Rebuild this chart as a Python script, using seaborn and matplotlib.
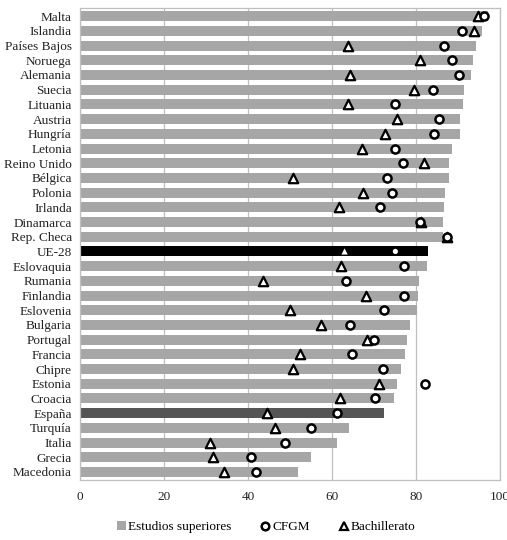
import numpy as np
import pandas as pd
import matplotlib
matplotlib.use('Agg')
import matplotlib.pyplot as plt
import seaborn as sns
from matplotlib.lines import Line2D
from matplotlib.patches import Patch

# datos ======================================================================
paises = ['Malta', 'Islandia', 'Países Bajos', 'Noruega', 'Alemania', 'Suecia',
          'Lituania', 'Austria', 'Hungría', 'Letonia', 'Reino Unido', 'Bélgica',
          'Polonia', 'Irlanda', 'Dinamarca', 'Rep. Checa', 'UE-28', 'Eslovaquia',
          'Rumania', 'Finlandia', 'Eslovenia', 'Bulgaria', 'Portugal', 'Francia',
          'Chipre', 'Estonia', 'Croacia', 'España', 'Turquía', 'Italia', 'Grecia',
          'Macedonia']
superiores = [97.2, 95.8, 94.3, 93.6, 93.1, 91.5, 91.2, 90.6, 90.6, 88.5, 87.9,
              87.9, 87.0, 86.8, 86.5, 86.4, 82.9, 82.6, 80.7, 80.4, 80.2, 78.6,
              77.9, 77.3, 76.5, 75.6, 74.8, 72.4, 64.1, 61.3, 55.1, 51.8]
cfgm = [96.3, 91.0, 86.8, 88.6, 90.2, 84.0, 74.9, 85.6, 84.4, 74.9, 77.0,
        73.1, 74.4, 71.4, 80.9, 87.3, 75.1, 77.2, 63.4, 77.2, 72.4, 64.2,
        69.9, 64.8, 72.1, 82.2, 70.3, 61.3, 55.1, 48.7, 40.8, 42.0]
bachillerato = [94.7, 93.9, 63.7, 80.9, 64.2, 79.6, 63.9, 75.5, 72.7, 67.2, 81.9,
                50.6, 67.5, 61.7, 81.1, 87.3, 63.0, 62.1, 43.6, 68.0, 50.1, 57.5,
                68.3, 52.5, 50.6, 71.3, 61.8, 44.6, 46.4, 31.0, 31.6, 34.2]

df = pd.DataFrame({'pais': paises, 'sup': superiores,
                   'cfgm': cfgm, 'bach': bachillerato})

colores = {p: '#a6a6a6' for p in paises}
colores['UE-28'] = '#000000'
colores['España'] = '#555555'

plt.rcParams['font.family'] = ['Liberation Serif', 'DejaVu Serif']

fig = plt.figure(figsize=(5.07, 5.4), dpi=100)
ax = fig.add_axes([0.158, 0.111, 0.828, 0.874])

sns.barplot(data=df, x='sup', y='pais', hue='pais', palette=colores,
            legend=False, width=0.68, ax=ax, zorder=2, saturation=1)

normal = df[df['pais'] != 'UE-28']
ue = df[df['pais'] == 'UE-28']

sns.scatterplot(data=normal, x='cfgm', y='pais', marker='o', s=34,
                facecolor='white', edgecolor='black', linewidth=1.8, ax=ax, zorder=4)
sns.scatterplot(data=normal, x='bach', y='pais', marker='^', s=46,
                facecolor='white', edgecolor='black', linewidth=1.6, ax=ax, zorder=3)
sns.scatterplot(data=ue, x='cfgm', y='pais', marker='o', s=14,
                facecolor='white', edgecolor='none', ax=ax, zorder=4)
sns.scatterplot(data=ue, x='bach', y='pais', marker='^', s=20,
                facecolor='white', edgecolor='none', ax=ax, zorder=3)

ax.set_xlim(0, 100)
ax.set_ylim(len(paises) - 0.45, -0.55)
ax.set_xticks([0, 20, 40, 60, 80, 100])
ax.xaxis.grid(True, color='#bfbfbf', linewidth=0.9, zorder=0)
ax.yaxis.grid(False)
ax.set_axisbelow(True)
ax.set_xlabel('')
ax.set_ylabel('')
for s in ax.spines.values():
    s.set_color('#bfbfbf')
    s.set_linewidth(0.9)
ax.tick_params(axis='both', length=0, labelsize=9.5, colors='#222222')
ax.tick_params(axis='x', pad=8)
ax.tick_params(axis='y', pad=6)

handles = [Patch(facecolor='#a6a6a6', edgecolor='none', label='Estudios superiores'),
           Line2D([], [], marker='o', color='none', markerfacecolor='white',
                  markeredgecolor='black', markeredgewidth=1.8, markersize=5.5, label='CFGM'),
           Line2D([], [], marker='^', color='none', markerfacecolor='white',
                  markeredgecolor='black', markeredgewidth=1.6, markersize=6, label='Bachillerato')]
fig.legend(handles=handles, loc='center', bbox_to_anchor=(0.525, 0.024), ncol=3,
           frameon=False, fontsize=9.5, handlelength=0.7, handletextpad=0.2,
           columnspacing=2.2)

fig.savefig('out.png', dpi=100)
